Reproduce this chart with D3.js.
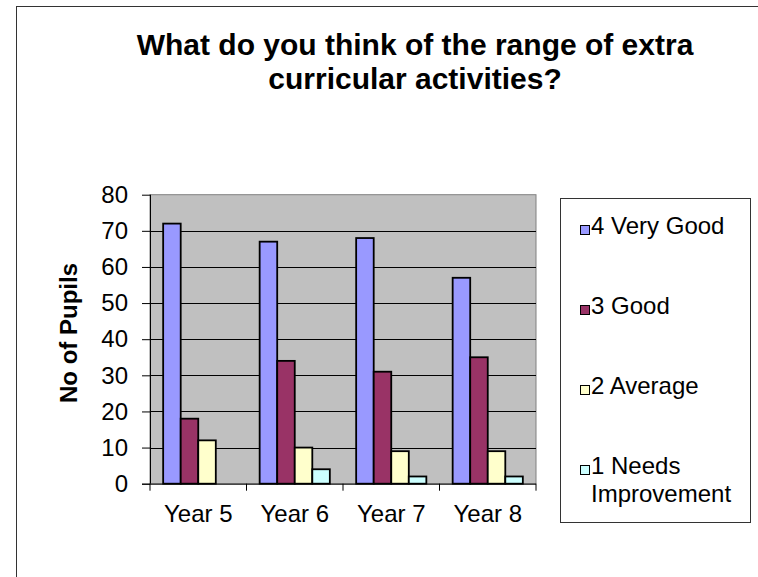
<!DOCTYPE html>
<html>
<head>
<meta charset="utf-8">
<script src="https://cdn.jsdelivr.net/npm/d3@7"></script>
<style>
  body { margin: 0; background: #fff; }
  svg { display: block; font-family: "Liberation Sans", Arial, sans-serif; }
</style>
</head>
<body>
<svg id="chart" width="758" height="577"></svg>
<script>
var years = ["Year 5", "Year 6", "Year 7", "Year 8"];
var seriesNames = ["4 Very Good", "3 Good", "2 Average", "1 Needs Improvement"];
var veryGood = [72, 67, 68, 57];
var good = [18, 34, 31, 35];
var average = [12, 10, 9, 9];
var needsImprovement = [0, 4, 2, 2];
var yTicks = [0, 10, 20, 30, 40, 50, 60, 70, 80];
var colors = ["#9999ff", "#993366", "#ffffcc", "#ccffff"];

var values = [veryGood, good, average, needsImprovement];

var svg = d3.select("#chart");

// outer chart border (runs off the picture on right and bottom)
svg.append("rect")
    .attr("x", 16.5).attr("y", 6.5)
    .attr("width", 800).attr("height", 700)
    .attr("fill", "#fff")
    .attr("stroke", "#333")
    .attr("stroke-width", 1);

// title
var title = svg.append("text")
    .attr("text-anchor", "middle")
    .style("font-weight", "bold")
    .style("font-size", "30px");
title.append("tspan").attr("x", 415).attr("y", 55).text("What do you think of the range of extra");
title.append("tspan").attr("x", 415).attr("y", 89).text("curricular activities?");

var plot = { left: 150, right: 536, top: 194.7, bottom: 483.7 };

var x = d3.scaleBand()
    .domain(years)
    .range([plot.left, plot.right])
    .paddingInner(0)
    .paddingOuter(0);

var y = d3.scaleLinear()
    .domain([0, 80])
    .range([plot.bottom, plot.top]);

// plot area background
svg.append("rect")
    .attr("x", plot.left).attr("y", plot.top)
    .attr("width", plot.right - plot.left)
    .attr("height", plot.bottom - plot.top)
    .attr("fill", "#c0c0c0")
    .attr("stroke", "#808080")
    .attr("stroke-width", 1);

// gridlines
svg.append("g")
    .selectAll("line")
    .data(yTicks.filter(function(d) { return d > 0 && d < 80; }))
    .enter().append("line")
    .attr("x1", plot.left).attr("x2", plot.right)
    .attr("y1", function(d) { return Math.round(y(d)) + 0.5; })
    .attr("y2", function(d) { return Math.round(y(d)) + 0.5; })
    .attr("stroke", "#000")
    .attr("stroke-width", 1);

// bars: 4 bars per group, gap of 1.5 bar widths
var bw = x.bandwidth() / 5.5;
var groups = svg.append("g")
    .selectAll("g")
    .data(years)
    .enter().append("g")
    .attr("transform", function(d) { return "translate(" + x(d) + ",0)"; });

groups.selectAll("rect")
    .data(function(d, i) {
        return values.map(function(s, k) { return { k: k, v: s[i] }; });
    })
    .enter().append("rect")
    .filter(function(d) { return d.v > 0; })
    .attr("x", function(d) { return bw * 0.75 + d.k * bw; })
    .attr("y", function(d) { return y(d.v); })
    .attr("width", bw)
    .attr("height", function(d) { return plot.bottom - y(d.v); })
    .attr("fill", function(d) { return colors[d.k]; })
    .attr("stroke", "#000")
    .attr("stroke-width", 1.8);

// y axis
var yAxis = svg.append("g")
    .attr("transform", "translate(" + plot.left + ",0)")
    .call(d3.axisLeft(y).tickValues(yTicks).tickSize(8).tickPadding(14));
yAxis.selectAll("text").style("font-size", "24px").attr("fill", "#000").attr("font-family", null);
yAxis.selectAll("line, path").attr("stroke", "#000");
yAxis.select("path").attr("d", "M0.5," + plot.top + "V" + plot.bottom);

// x axis with ticks at category boundaries
var xAxis = svg.append("g")
    .attr("transform", "translate(0," + plot.bottom + ")");
xAxis.append("line")
    .attr("x1", plot.left - 8).attr("x2", plot.right)
    .attr("y1", 0.5).attr("y2", 0.5)
    .attr("stroke", "#000");
xAxis.selectAll(".tk")
    .data(years.concat(["end"]))
    .enter().append("line")
    .attr("x1", function(d, i) { return i < years.length ? x(d) : plot.right; })
    .attr("x2", function(d, i) { return i < years.length ? x(d) : plot.right; })
    .attr("y1", 0).attr("y2", 7)
    .attr("stroke", "#000");
xAxis.selectAll(".lbl")
    .data(years)
    .enter().append("text")
    .attr("x", function(d) { return x(d) + x.bandwidth() / 2; })
    .attr("y", 38)
    .attr("text-anchor", "middle")
    .style("font-size", "24px")
    .text(function(d) { return d; });

// y axis title
svg.append("text")
    .attr("transform", "translate(77,333) rotate(-90)")
    .attr("text-anchor", "middle")
    .style("font-weight", "bold")
    .style("font-size", "24px")
    .text("No of Pupils");

// legend
var legend = svg.append("g");
legend.append("rect")
    .attr("x", 560.5).attr("y", 198.5)
    .attr("width", 190).attr("height", 324)
    .attr("fill", "#fff")
    .attr("stroke", "#333");

var items = legend.selectAll(".item")
    .data(seriesNames)
    .enter().append("g")
    .attr("transform", function(d, i) { return "translate(0," + (234 + i * 80) + ")"; });

items.append("rect")
    .attr("x", 580.5).attr("y", -8.5)
    .attr("width", 9).attr("height", 9)
    .attr("fill", function(d, i) { return colors[i]; })
    .attr("stroke", "#000");

items.append("text")
    .style("font-size", "24px")
    .each(function(d) {
        var parts = d === "1 Needs Improvement" ? ["1 Needs", "Improvement"] : [d];
        var t = d3.select(this);
        parts.forEach(function(p, j) {
            t.append("tspan").attr("x", 591).attr("y", j * 28).text(p);
        });
    });
</script>
</body>
</html>
